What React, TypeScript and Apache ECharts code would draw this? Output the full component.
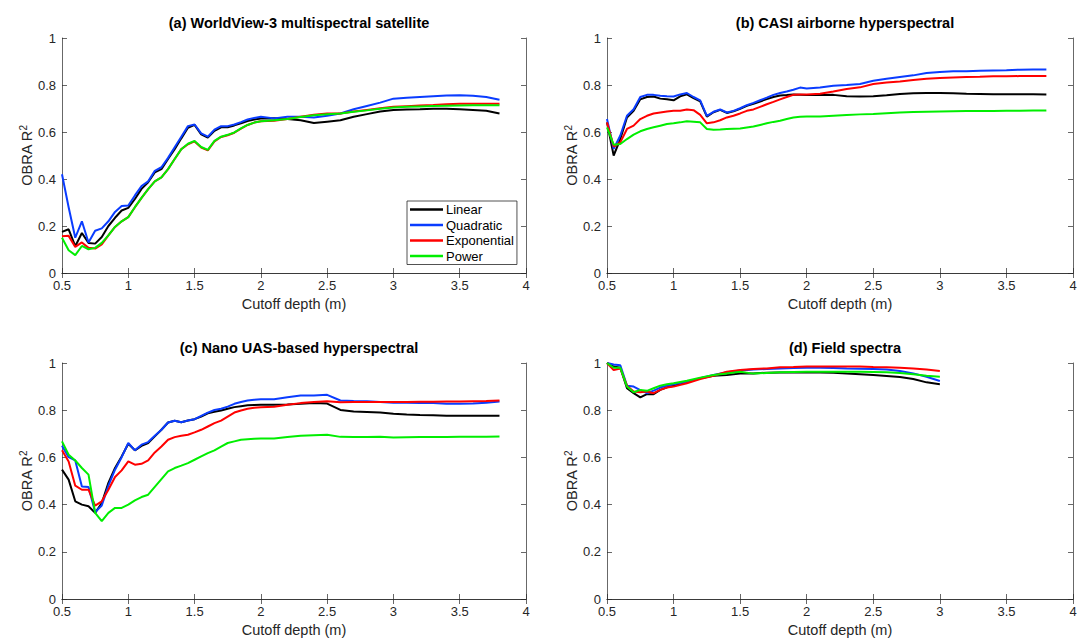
import React, { useEffect, useRef } from "react";
import * as echarts from "echarts";

// x positions (m): 0.05 steps to 2.0, then 0.1 steps
const xFull = [0.5,0.55,0.6,0.65,0.7,0.75,0.8,0.85,0.9,0.95,1.0,1.05,1.1,1.15,1.2,1.25,1.3,1.35,1.4,1.45,1.5,1.55,1.6,1.65,1.7,1.75,1.8,1.85,1.9,1.95,2.0,
  2.1,2.2,2.3,2.4,2.5,2.6,2.7,2.8,2.9,3.0,3.1,3.2,3.3,3.4,3.5,3.6,3.7,3.8];
const xField = [0.5,0.55,0.6,0.65,0.7,0.75,0.8,0.85,0.9,0.95,1.0,1.1,1.2,1.3,1.4,1.5,1.6,1.7,1.8,1.9,2.0,2.1,2.2,2.3,2.4,2.5,2.6,2.7,2.8,2.9,3.0];

const seriesNames = ["Linear", "Quadratic", "Exponential", "Power"];
const colors = ["#000000", "#0a3cff", "#ff0000", "#00ee00"];

// (a) WorldView-3
const aLinear = [.175,.186,.114,.17,.128,.125,.153,.2,.235,.266,.277,.315,.358,.386,.428,.442,.485,.527,.573,.618,.63,.59,.576,.605,.62,.62,.628,.637,.647,.653,.657,
  .658,.655,.65,.638,.644,.65,.665,.676,.687,.694,.696,.697,.699,.699,.697,.694,.69,.679];
const aQuadratic = [.42,.28,.15,.22,.13,.18,.19,.22,.26,.285,.287,.33,.37,.39,.435,.45,.49,.535,.58,.625,.632,.594,.58,.61,.625,.625,.632,.642,.653,.66,.665,
  .658,.665,.665,.662,.669,.679,.697,.711,.725,.742,.746,.749,.752,.755,.756,.754,.749,.737];
const aExponential = [.156,.158,.111,.13,.107,.104,.122,.16,.196,.22,.238,.28,.32,.357,.39,.407,.442,.485,.527,.548,.56,.534,.522,.56,.579,.586,.597,.614,.63,.64,.646,
  .648,.655,.665,.673,.679,.679,.687,.694,.701,.707,.71,.713,.715,.718,.72,.72,.72,.72];
const aPower = [.15,.097,.076,.115,.101,.107,.128,.16,.196,.22,.238,.28,.32,.357,.39,.407,.442,.485,.527,.55,.562,.536,.524,.562,.58,.588,.598,.615,.63,.64,.646,
  .65,.655,.664,.671,.676,.679,.686,.692,.699,.704,.707,.709,.711,.712,.713,.714,.714,.714];

// (b) CASI
const bLinear = [.641,.5,.57,.662,.69,.739,.749,.751,.742,.739,.735,.752,.76,.744,.73,.665,.684,.694,.681,.688,.699,.711,.72,.73,.74,.749,.755,.757,.76,.759,.757,
  .757,.758,.752,.751,.752,.756,.762,.765,.766,.766,.765,.763,.762,.761,.761,.761,.761,.76];
const bQuadratic = [.655,.528,.585,.669,.697,.749,.758,.758,.754,.752,.751,.76,.766,.749,.735,.669,.686,.696,.683,.69,.701,.714,.724,.735,.746,.758,.766,.772,.78,.789,.785,
  .789,.797,.8,.804,.818,.827,.834,.841,.851,.855,.858,.859,.861,.862,.863,.865,.866,.866];
const bExponential = [.641,.538,.556,.613,.627,.655,.669,.679,.683,.687,.69,.69,.696,.693,.673,.637,.641,.65,.662,.669,.679,.69,.696,.707,.718,.728,.739,.749,.758,.76,.76,
  .763,.772,.783,.79,.804,.811,.815,.821,.827,.83,.832,.834,.835,.837,.837,.838,.838,.838];
const bPower = [.62,.546,.549,.57,.589,.603,.613,.62,.627,.634,.637,.641,.646,.644,.641,.613,.61,.611,.613,.614,.615,.619,.623,.63,.637,.643,.648,.655,.662,.665,.666,
  .666,.669,.672,.675,.677,.68,.683,.685,.686,.687,.688,.689,.689,.689,.69,.69,.691,.692];

// (c) Nano UAS
const cLinear = [.548,.506,.414,.4,.393,.365,.407,.492,.555,.604,.658,.63,.649,.661,.689,.717,.748,.755,.749,.756,.762,.773,.787,.793,.799,.806,.813,.817,.821,.822,.823,
  .823,.824,.827,.83,.828,.801,.794,.792,.79,.785,.782,.78,.779,.777,.777,.777,.777,.776];
const cQuadratic = [.649,.601,.587,.477,.475,.368,.396,.48,.548,.601,.661,.63,.654,.665,.692,.717,.748,.755,.749,.756,.762,.776,.79,.801,.806,.815,.827,.835,.841,.844,.846,
  .846,.855,.862,.862,.865,.841,.839,.838,.835,.832,.832,.831,.83,.827,.827,.828,.832,.837];
const cExponential = [.63,.583,.48,.463,.463,.396,.414,.463,.517,.545,.583,.569,.573,.587,.621,.646,.675,.686,.692,.696,.706,.717,.731,.745,.756,.773,.79,.799,.806,.81,.813,
  .815,.823,.83,.835,.838,.834,.835,.835,.835,.835,.835,.836,.836,.837,.837,.838,.839,.841];
const cPower = [.668,.611,.587,.555,.527,.365,.33,.365,.386,.386,.4,.418,.432,.442,.475,.508,.541,.555,.565,.576,.59,.604,.618,.63,.646,.661,.668,.675,.677,.679,.68,
  .68,.686,.692,.694,.696,.687,.686,.686,.687,.684,.685,.686,.686,.686,.687,.687,.688,.689];

// (d) Field spectra
const dLinear = [1.0,.985,.98,.893,.872,.854,.868,.868,.886,.897,.904,.918,.935,.946,.949,.956,.956,.959,.96,.96,.96,.96,.959,.955,.952,.949,.945,.941,.932,.918,.91];
const dQuadratic = [1.0,.994,.99,.904,.9,.885,.872,.883,.896,.904,.91,.921,.935,.949,.961,.968,.972,.975,.977,.979,.98,.98,.979,.977,.976,.975,.972,.966,.956,.942,.924];
const dExponential = [1.0,.97,.977,.904,.879,.876,.879,.872,.886,.896,.9,.914,.932,.946,.963,.97,.975,.977,.982,.983,.985,.985,.985,.985,.985,.983,.982,.98,.977,.972,.966];
const dPower = [1.0,.98,.98,.9,.876,.886,.882,.893,.904,.91,.914,.925,.938,.949,.956,.963,.955,.958,.961,.962,.963,.963,.963,.963,.963,.962,.961,.958,.952,.946,.942];

const panelTitles = [
  "(a) WorldView-3 multispectral satellite",
  "(b) CASI airborne hyperspectral",
  "(c) Nano UAS-based hyperspectral",
  "(d) Field spectra",
];
const xTitle = "Cutoff depth (m)";
const yTitle = "OBRA R{sup|2}";

const panels = [
  { x: xFull, ys: [aLinear, aQuadratic, aExponential, aPower] },
  { x: xFull, ys: [bLinear, bQuadratic, bExponential, bPower] },
  { x: xFull, ys: [cLinear, cQuadratic, cExponential, cPower] },
  { x: xField, ys: [dLinear, dQuadratic, dExponential, dPower] },
];

const grids = [
  { left: 62, top: 38, width: 464, height: 235 },
  { left: 607, top: 38, width: 466, height: 235 },
  { left: 62, top: 363, width: 464, height: 236 },
  { left: 607, top: 363, width: 466, height: 236 },
];

const FONT = "Liberation Sans, Arial, Helvetica, sans-serif";
const AX = "#262626";

export default function App() {
  const ref = useRef<HTMLDivElement>(null);
  useEffect(() => {
    if (!ref.current) return;
    const chart = echarts.init(ref.current, undefined, { renderer: "svg" });
    const xAxes: any[] = [];
    const yAxes: any[] = [];
    const series: any[] = [];
    const titles: any[] = [];
    grids.forEach((g, i) => {
      const axisLine = { show: true, lineStyle: { color: AX, width: 0.7 } };
      const tick = { show: true, inside: true, length: 5, lineStyle: { color: AX, width: 0.7 } };
      xAxes.push({
        type: "value", gridIndex: i, position: "bottom", min: 0.5, max: 4, interval: 0.5,
        axisLine, axisTick: tick, splitLine: { show: false },
        axisLabel: { color: AX, fontSize: 13, fontFamily: FONT, margin: 6 },
        name: xTitle, nameLocation: "middle", nameGap: 23,
        nameTextStyle: { color: AX, fontSize: 14.5, fontFamily: FONT },
      });
      xAxes.push({
        type: "value", gridIndex: i, position: "top", min: 0.5, max: 4, interval: 0.5,
        axisLine, axisTick: tick, splitLine: { show: false }, axisLabel: { show: false },
      });
      yAxes.push({
        type: "value", gridIndex: i, position: "left", min: 0, max: 1, interval: 0.2,
        axisLine, axisTick: tick, splitLine: { show: false },
        axisLabel: { color: AX, fontSize: 13, fontFamily: FONT, margin: 6 },
        name: yTitle, nameLocation: "middle", nameGap: 26, nameRotate: 90,
        nameTextStyle: {
          color: AX, fontSize: 14.5, fontFamily: FONT,
          rich: { sup: { fontSize: 10, color: AX, fontFamily: FONT, padding: [0, 0, 7, 0] } },
        },
      });
      yAxes.push({
        type: "value", gridIndex: i, position: "right", min: 0, max: 1, interval: 0.2,
        axisLine, axisTick: tick, splitLine: { show: false }, axisLabel: { show: false },
      });
      titles.push({
        text: panelTitles[i],
        left: g.left + g.width / 2,
        top: g.top - 28,
        textAlign: "center",
        textStyle: { fontSize: 14.5, fontWeight: "bold", color: "#000", fontFamily: FONT },
      });
      const p = panels[i];
      p.ys.forEach((ys, k) => {
        series.push({
          type: "line",
          name: seriesNames[k],
          xAxisIndex: i * 2,
          yAxisIndex: i * 2,
          data: p.x.map((xv, j) => [xv, ys[j]]),
          showSymbol: false,
          symbol: "none",
          lineStyle: { width: 2, color: colors[k] },
          itemStyle: { color: colors[k] },
          emphasis: { disabled: true },
        });
      });
    });
    chart.setOption({
      animation: false,
      backgroundColor: "#ffffff",
      title: titles,
      grid: grids,
      xAxis: xAxes,
      yAxis: yAxes,
      series,
      legend: {
        data: seriesNames,
        orient: "vertical",
        left: 407,
        top: 201,
        icon: "rect",
        itemWidth: 33,
        itemHeight: 2.5,
        itemGap: 2.5,
        padding: [2, 3, 2, 3],
        borderColor: AX,
        borderWidth: 0.8,
        backgroundColor: "#ffffff",
        selectedMode: false,
        textStyle: { fontSize: 13, color: "#000", fontFamily: FONT, lineHeight: 13, padding: [0, 0, 0, -2] },
      },
    });
    return () => chart.dispose();
  }, []);
  return (
    <div
      ref={ref}
      style={{ position: "fixed", left: 0, top: 0, width: 1086, height: 640, background: "#fff" }}
    />
  );
}
